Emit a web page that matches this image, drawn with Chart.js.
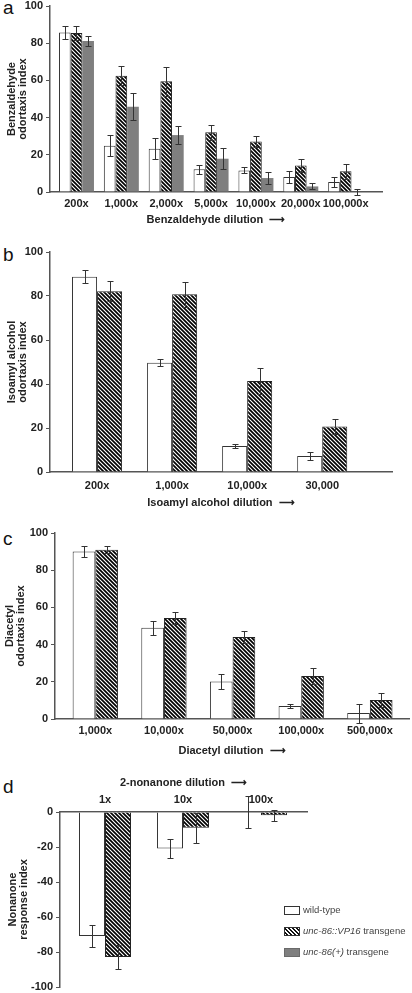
<!DOCTYPE html>
<html>
<head>
<meta charset="utf-8">
<script src="https://cdn.jsdelivr.net/npm/chart.js@4.4.1/dist/chart.umd.min.js"></script>
<style>
  body { margin: 0; background: #fff; font-family: "Liberation Sans", Arial, sans-serif; }
  #page { position: relative; width: 412px; height: 993px; overflow: hidden; }
  .panel { position: absolute; left: 0; width: 412px; }
  .tag { position: absolute; left: 3px; font-size: 19px; line-height: 18px; color: #111; }
  .legend { position: absolute; left: 284px; top: 904px; font-size: 9.5px; color: #444; }
  .legend div { position: relative; height: 21px; line-height: 12px; }
  .legend span.box { position: absolute; left: 0; top: 2px; width: 14px; height: 7px; border: 1px solid #333; }
  .legend span.txt { position: absolute; left: 19px; top: 0; white-space: nowrap; }
</style>
</head>
<body>
<div id="page">
  <span class="tag" style="top:-1px">a</span>
  <span class="tag" style="top:246px">b</span>
  <span class="tag" style="top:530px">c</span>
  <span class="tag" style="top:778px">d</span>

  <div class="panel" style="top:0;height:227px"><canvas id="chartA"></canvas></div>
  <div class="panel" style="top:240px;height:270px"><canvas id="chartB"></canvas></div>
  <div class="panel" style="top:522px;height:236px"><canvas id="chartC"></canvas></div>
  <div class="panel" style="top:770px;height:223px"><canvas id="chartD"></canvas></div>

  <div class="legend">
    <div><span class="box" style="background:#fff"></span><span class="txt">wild-type</span></div>
    <div><span class="box" style="background:repeating-linear-gradient(45deg,#fff 0 1.3px,#111 1.3px 2.8px)"></span><span class="txt"><i>unc-86::VP16</i> transgene</span></div>
    <div><span class="box" style="background:#7f7f7f;border-color:#6a6a6a"></span><span class="txt"><i>unc-86(+)</i> transgene</span></div>
  </div>
</div>

<script>
// ---- data ----
// a: benzaldehyde
const aLabels = ["200x", "1,000x", "2,000x", "5,000x", "10,000x", "20,000x", "100,000x"];
const aWild = [85.8, 24.9, 23.3, 12.2, 11.6, 8.1, 5.4];
const aWildErr = [3.7, 5.6, 5.7, 2.3, 1.6, 3.2, 2.5];
const aVP16 = [85.5, 62.5, 59.5, 32.1, 27.2, 14.3, 11.1];
const aVP16Err = [3.7, 5.0, 7.8, 4.1, 3.0, 3.4, 3.9];
const aPlus = [81.2, 45.9, 30.6, 17.9, 7.5, 3.0, 0];
const aPlusErr = [2.7, 7.2, 4.8, 5.7, 3.2, 1.6, 1.8];

// b: isoamyl alcohol
const bLabels = ["200x", "1,000x", "10,000x", "30,000"];
const bWild = [88.7, 49.7, 11.8, 7.3];
const bWildErr = [3.0, 1.7, 1.1, 1.9];
const bVP16 = [82.2, 80.8, 41.4, 20.7];
const bVP16Err = [4.6, 5.7, 5.8, 3.5];

// c: diacetyl
const cLabels = ["1,000x", "10,000x", "50,000x", "100,000x", "500,000x"];
const cWild = [90.1, 49.1, 20.1, 7.0, 3.2];
const cWildErr = [3.0, 3.8, 3.9, 1.2, 5.1];
const cVP16 = [91.0, 54.3, 44.1, 23.1, 10.2];
const cVP16Err = [2.0, 3.4, 3.0, 4.1, 3.6];

// d: 2-nonanone
const dLabels = ["1x", "10x", "100x"];
const dWild = [-70.9, -20.8, 0];
const dWildErr = [6.1, 5.4, 9.0];
const dVP16 = [-82.9, -9.0, -1.9];
const dVP16Err = [6.7, 8.5, 3.2];

const FONT = "'Liberation Sans', Arial, sans-serif";
const INK = "#222";
const AXIS = "#555";

function hatchPattern() {
  const c = document.createElement("canvas");
  c.width = c.height = 4;
  const g = c.getContext("2d");
  g.fillStyle = "#fff";
  g.fillRect(0, 0, 4, 4);
  g.strokeStyle = "#000";
  g.lineWidth = 1.7;
  g.beginPath();
  g.moveTo(-1, -1); g.lineTo(5, 5);
  g.moveTo(-1, 3); g.lineTo(1, 5);
  g.moveTo(3, -1); g.lineTo(5, 1);
  g.stroke();
  return g.createPattern(c, "repeat");
}

const STYLES = {
  wild: { backgroundColor: "#fff", borderColor: "#333", borderWidth: 1 },
  vp16: { backgroundColor: hatchPattern(), borderColor: "#222", borderWidth: 1 },
  plus: { backgroundColor: "#7f7f7f", borderColor: "#7f7f7f", borderWidth: 0 },
};

// error bars drawn on top of each bar from its dataset's `errors` list
const errorBars = {
  id: "errorBars",
  afterDatasetsDraw(chart) {
    const { ctx } = chart;
    const y = chart.scales.y;
    ctx.save();
    ctx.strokeStyle = "#333";
    ctx.lineWidth = 1;
    chart.data.datasets.forEach((ds, i) => {
      if (!ds.errors) return;
      chart.getDatasetMeta(i).data.forEach((bar, j) => {
        const v = ds.data[j].y, e = ds.errors[j];
        const x = Math.round(bar.x) + 0.5;
        const t = Math.round(y.getPixelForValue(v + e)) + 0.5;
        const b = Math.round(y.getPixelForValue(v - e)) + 0.5;
        const cap = 3;
        ctx.beginPath();
        ctx.moveTo(x, t); ctx.lineTo(x, b);
        ctx.moveTo(x - cap, t); ctx.lineTo(x + cap, t);
        ctx.moveTo(x - cap, b); ctx.lineTo(x + cap, b);
        ctx.stroke();
      });
    });
    ctx.restore();
  },
};

function makePanel(id, p) {
  const datasets = p.series.map((s) => ({
    data: s.values.map((v, i) => ({ x: i, y: v })),
    errors: s.errors,
    ...STYLES[s.kind],
    categoryPercentage: p.catPct,
    barPercentage: 1,
  }));
  return new Chart(document.getElementById(id), {
    type: "bar",
    data: { datasets },
    plugins: [errorBars],
    options: {
      responsive: true,
      maintainAspectRatio: false,
      animation: false,
      events: [],
      layout: { padding: { top: p.padTop, right: p.padRight, bottom: p.padBottom || 0, left: 0 } },
      plugins: { legend: { display: false }, tooltip: { enabled: false } },
      scales: {
        x: {
          type: "linear",
          position: p.xPos || "bottom",
          offset: false,
          min: p.xMin,
          max: p.xMax,
          afterBuildTicks: (s) => { s.ticks = p.labels.map((_, i) => ({ value: i })); },
          afterFit: (s) => { s.height = p.xH; s.paddingLeft = 0; s.paddingRight = 0; },
          grid: { display: false, drawTicks: false },
          border: { display: true, color: AXIS, width: 1.5 },
          ticks: {
            autoSkip: false, maxRotation: 0, padding: p.xTickPad,
            color: INK, font: { family: FONT, size: 11, weight: "bold" },
            callback: (v) => p.labels[v],
          },
          title: {
            display: true, text: p.xTitle, color: INK, padding: 0,
            font: { family: FONT, size: 11, weight: "bold" },
          },
        },
        y: {
          min: p.yMin, max: p.yMax,
          afterFit: (s) => { s.width = p.yW; s.paddingTop = 0; s.paddingBottom = 0; },
          grid: { drawOnChartArea: false, drawTicks: true, tickLength: 4, color: AXIS },
          border: { color: AXIS, width: 1.5 },
          ticks: { stepSize: 20, padding: 3, color: INK, font: { family: FONT, size: 11, weight: "bold" } },
          title: {
            display: true, text: p.yTitle, color: INK, padding: { top: p.yTitlePad, bottom: 0 },
            font: { family: FONT, size: 11, weight: "bold", lineHeight: 1.0 },
          },
        },
      },
    },
  });
}

makePanel("chartA", {
  labels: aLabels,
  series: [
    { kind: "wild", values: aWild, errors: aWildErr },
    { kind: "vp16", values: aVP16, errors: aVP16Err },
    { kind: "plus", values: aPlus, errors: aPlusErr },
  ],
  xMin: -0.59, xMax: 6.81, catPct: 0.78,
  yMin: 0, yMax: 100, yW: 50, yTitlePad: 6,
  padTop: 6, padRight: 30, xH: 35, xTickPad: 5,
  yTitle: ["Benzaldehyde", "odortaxis index"],
  xTitle: "Benzaldehyde dilution  \u27F6",
});

makePanel("chartB", {
  labels: bLabels,
  series: [
    { kind: "wild", values: bWild, errors: bWildErr },
    { kind: "vp16", values: bVP16, errors: bVP16Err },
  ],
  xMin: -0.627, xMax: 3.93, catPct: 0.667,
  yMin: 0, yMax: 100, yW: 50, yTitlePad: 6,
  padTop: 12, padRight: 20, xH: 38, xTickPad: 7,
  yTitle: ["Isoamyl alcohol", "odortaxis index"],
  xTitle: "Isoamyl alcohol dilution  \u27F6",
});

makePanel("chartC", {
  labels: cLabels,
  series: [
    { kind: "wild", values: cWild, errors: cWildErr },
    { kind: "vp16", values: cVP16, errors: cVP16Err },
  ],
  xMin: -0.587, xMax: 4.57, catPct: 0.66,
  yMin: 0, yMax: 100, yW: 55, yTitlePad: 4,
  padTop: 11, padRight: 3, xH: 39, xTickPad: 5,
  yTitle: ["Diacetyl", "odortaxis index"],
  xTitle: "Diacetyl dilution  \u27F6",
});

makePanel("chartD", {
  labels: dLabels,
  series: [
    { kind: "wild", values: dWild, errors: dWildErr },
    { kind: "vp16", values: dVP16, errors: dVP16Err },
  ],
  xMin: -0.577, xMax: 2.59, catPct: 0.667, xPos: "top",
  yMin: -100, yMax: 0, yW: 60, yTitlePad: 7,
  padTop: 6, padRight: 105, padBottom: 6, xH: 36, xTickPad: 5,
  yTitle: ["Nonanone", "response index"],
  xTitle: "2-nonanone dilution  \u27F6",
});
</script>
</body>
</html>
